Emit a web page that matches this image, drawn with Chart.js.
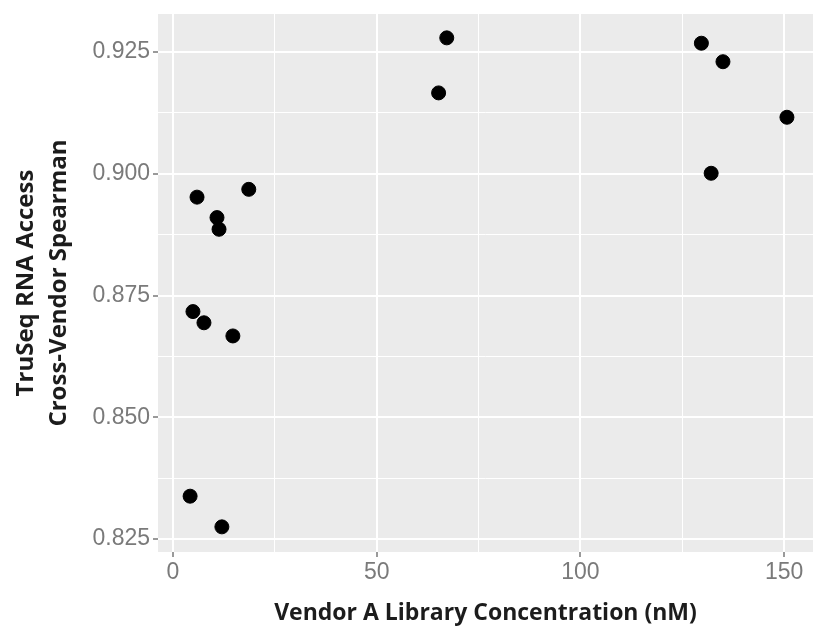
<!DOCTYPE html>
<html>
<head>
<meta charset="utf-8">
<script src="https://cdn.jsdelivr.net/npm/chart.js@4.4.0/dist/chart.umd.min.js"></script>
<style>
  html, body { margin: 0; padding: 0; background: #fff; }
  #wrap { width: 815px; height: 631px; }
</style>
</head>
<body>
<div id="wrap"><canvas id="myChart" width="815" height="631"></canvas></div>
<script>
// Vendor A library concentration (nM) vs cross-vendor Spearman
var concNM = [5.9, 18.6, 10.8, 11.3, 4.9, 7.6, 14.7, 4.2, 12.0, 65.2, 67.2, 129.7, 135.0, 150.7, 132.1];
var spearman = [0.8952, 0.8968, 0.8910, 0.8886, 0.8717, 0.8694, 0.8667, 0.8338, 0.8275, 0.9166, 0.9279, 0.9268, 0.9230, 0.9116, 0.9001];

var xTicks = [0, 50, 100, 150];
var xMinor = [25, 75, 125];
var yTicks = [0.825, 0.850, 0.875, 0.900, 0.925];
var yMinor = [0.8375, 0.8625, 0.8875, 0.9125];

var pts = [];
for (var i = 0; i < concNM.length; i++) {
  pts.push({ x: concNM[i], y: spearman[i] });
}

function isMajor(list, v) {
  for (var k = 0; k < list.length; k++) {
    if (Math.abs(list[k] - v) < 1e-9) return true;
  }
  return false;
}

// grey ggplot panel behind the grid
var panelBg = {
  id: 'panelBg',
  beforeDraw: function(chart) {
    var a = chart.chartArea, c = chart.ctx;
    c.save();
    c.fillStyle = '#EBEBEB';
    c.fillRect(a.left, a.top, a.right - a.left, a.bottom - a.top);
    c.restore();
  }
};

var tickFont = { family: 'Liberation Sans, Arial, sans-serif', size: 23 };

var ctx = document.querySelector('#myChart').getContext('2d');
var scatter = new Chart(ctx, {
  type: 'scatter',
  data: {
    datasets: [{
      data: pts,
      backgroundColor: '#000',
      borderColor: '#000',
      pointRadius: 7,
      pointHoverRadius: 7
    }]
  },
  options: {
    responsive: false,
    animation: false,
    events: [],
    layout: { autoPadding: false, padding: { top: 14, right: 2, left: 0, bottom: 0 } },
    plugins: { legend: { display: false }, tooltip: { enabled: false } },
    scales: {
      x: {
        type: 'linear',
        min: -3.68,
        max: 157.1,
        afterBuildTicks: function(s) {
          s.ticks = xTicks.concat(xMinor).sort(function(a, b) { return a - b; }).map(function(v) { return { value: v }; });
        },
        afterFit: function(s) {
          s.height = 79;
          s.paddingLeft = 0;
          s.paddingRight = 0;
        },
        border: { display: false },
        grid: {
          color: '#FFFFFF',
          lineWidth: function(c) { return isMajor(xTicks, c.tick.value) ? 2 : 1; },
          tickColor: function(c) { return isMajor(xTicks, c.tick.value) ? '#9a9a9a' : 'rgba(0,0,0,0)'; },
          tickLength: 5
        },
        ticks: {
          autoSkip: false,
          maxRotation: 0,
          color: '#7a7a7a',
          font: tickFont,
          padding: 2,
          callback: function(v) { return isMajor(xTicks, v) ? String(v) : ''; }
        },
        title: {
          display: true,
          text: 'Vendor A Library Concentration (nM)',
          color: '#1c1c1c',
          font: { family: 'Open Sans, sans-serif', size: 23, weight: 'bold', lineHeight: 1.2 },
          padding: { top: 0, bottom: 4 }
        }
      },
      y: {
        type: 'linear',
        min: 0.82234,
        max: 0.9328,
        afterBuildTicks: function(s) {
          s.ticks = yTicks.concat(yMinor).sort(function(a, b) { return a - b; }).map(function(v) { return { value: v }; });
        },
        afterFit: function(s) {
          s.width = 158;
          s.paddingTop = 0;
          s.paddingBottom = 0;
        },
        border: { display: false },
        grid: {
          color: '#FFFFFF',
          lineWidth: function(c) { return isMajor(yTicks, c.tick.value) ? 2 : 1; },
          tickColor: function(c) { return isMajor(yTicks, c.tick.value) ? '#9a9a9a' : 'rgba(0,0,0,0)'; },
          tickLength: 5
        },
        ticks: {
          autoSkip: false,
          color: '#7a7a7a',
          font: tickFont,
          padding: 3,
          callback: function(v) { return isMajor(yTicks, v) ? v.toFixed(3) : ''; }
        },
        title: {
          display: true,
          text: ['TruSeq RNA Access', 'Cross-Vendor Spearman'],
          color: '#1c1c1c',
          font: { family: 'Open Sans, sans-serif', size: 24, weight: 'bold', lineHeight: 1.4 },
          padding: { top: 9, bottom: 0 }
        }
      }
    }
  },
  plugins: [panelBg]
});
</script>
</body>
</html>
